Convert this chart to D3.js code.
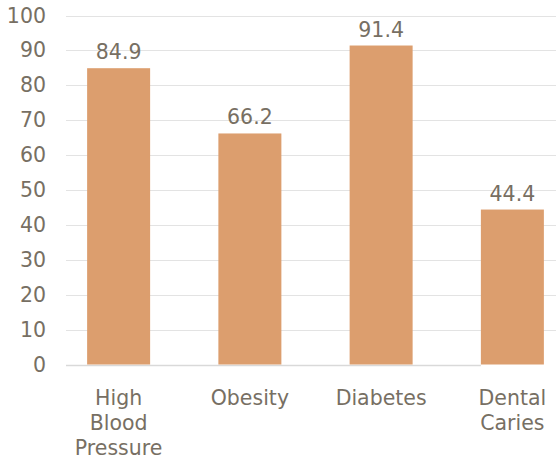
<!DOCTYPE html>
<html>
<head>
<meta charset="utf-8">
<script src="https://cdn.jsdelivr.net/npm/d3@7"></script>
<style>
  html, body { margin: 0; padding: 0; background: #fff; }
  svg { display: block; }
  text { font-family: "DejaVu Sans", sans-serif; font-weight: normal; fill: #776f63; }
</style>
</head>
<body>
<svg id="chart" width="556" height="459"></svg>
<script>
// Chart data
const categories = [["High", "Blood", "Pressure"], ["Obesity"], ["Diabetes"], ["Dental", "Caries"]];
const values = [84.9, 66.2, 91.4, 44.4];
const yTicks = [0, 10, 20, 30, 40, 50, 60, 70, 80, 90, 100];

const svg = d3.select("#chart");
const W = 556;
const FONT = 20.5;
const TEXT = "#776f63";

const y = d3.scaleLinear().domain([0, 100]).range([364.5, 15.5]);
const x = d3.scaleBand()
  .domain(categories.map((c, i) => i))
  .range([53, 578])
  .paddingInner(0.52)
  .paddingOuter(0.26);

// gridlines (the baseline stops where the last bar begins)
svg.append("g").selectAll("line")
  .data(yTicks)
  .join("line")
  .attr("x1", 66)
  .attr("x2", d => d === 0 ? x(categories.length - 1) : W)
  .attr("y1", d => Math.round(y(d)) + 0.5)
  .attr("y2", d => Math.round(y(d)) + 0.5)
  .attr("stroke", d => d === 0 ? "#d9d9d9" : "#e3e3e3")
  .attr("stroke-width", d => d === 0 ? 1.5 : 1.2);

// y-axis labels
const yAxis = d3.axisLeft(y).tickValues(yTicks).tickSize(0).tickPadding(0);
const gy = svg.append("g").attr("transform", "translate(46,0)").call(yAxis);
gy.select(".domain").remove();
gy.selectAll("text")
  .attr("font-size", FONT)
  .attr("fill", TEXT)
  .attr("font-family", "'DejaVu Sans', sans-serif");

// bars
svg.append("g").selectAll("rect")
  .data(values)
  .join("rect")
  .attr("x", (d, i) => x(i))
  .attr("width", x.bandwidth())
  .attr("y", d => y(d))
  .attr("height", d => y(0) - y(d))
  .attr("fill", "#dc9e6e");

// value labels
svg.append("g").selectAll("text")
  .data(values)
  .join("text")
  .attr("x", (d, i) => x(i) + x.bandwidth() / 2)
  .attr("y", d => y(d) - 9)
  .attr("text-anchor", "middle")
  .attr("font-size", FONT)
  .text(d => d.toFixed(1));

// category labels
const cat = svg.append("g").selectAll("text")
  .data(categories)
  .join("text")
  .attr("text-anchor", "middle")
  .attr("font-size", FONT)
  .attr("x", (d, i) => x(i) + x.bandwidth() / 2)
  .attr("y", 405);
cat.selectAll("tspan")
  .data(d => d)
  .join("tspan")
  .attr("x", function () { return this.parentNode.getAttribute("x"); })
  .attr("dy", (d, j) => j === 0 ? 0 : 25)
  .text(d => d);
</script>
</body>
</html>
